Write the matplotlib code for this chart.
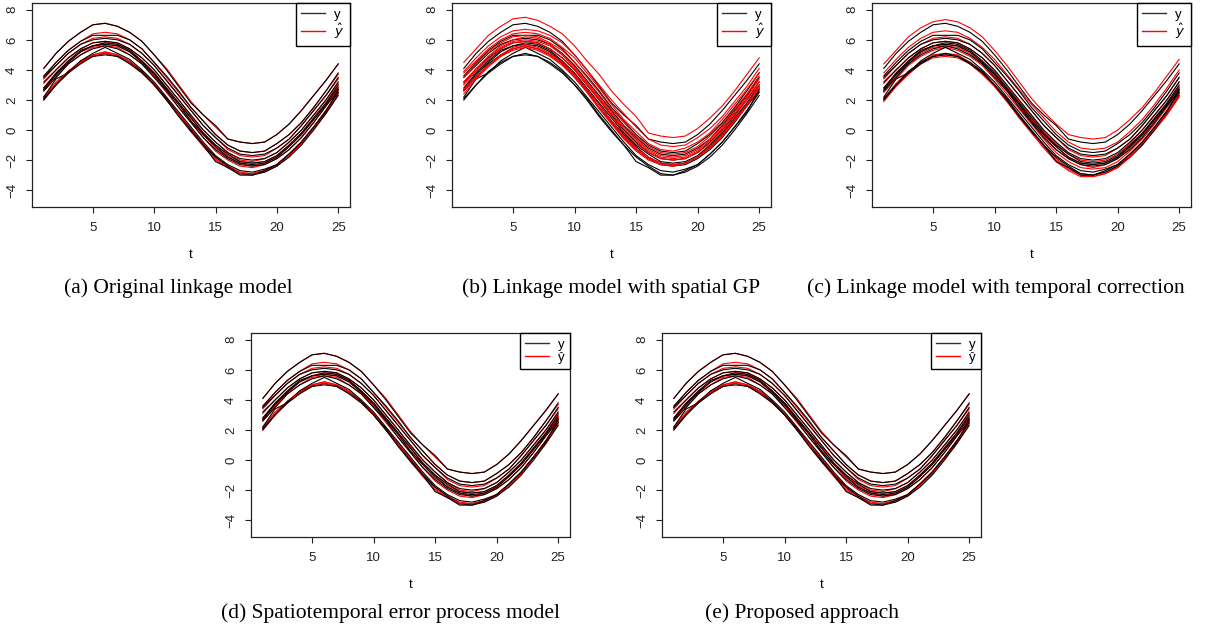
import numpy as np
import matplotlib
matplotlib.use('Agg')
import matplotlib.pyplot as plt

# time index
t = np.arange(1, 26)

# observed series (black), same in every panel
y_obs = [
    [4.1, 5.1, 5.9, 6.5, 7.0, 7.1, 6.9, 6.5, 5.9, 5.0, 4.0, 2.9, 1.8, 1.0, 0.3, -0.6, -0.8, -0.9, -0.8, -0.3, 0.4, 1.3, 2.3, 3.3, 4.4],
    [3.6, 4.5, 5.3, 5.9, 6.3, 6.3, 6.3, 6.0, 5.4, 4.5, 3.6, 2.6, 1.5, 0.6, -0.3, -1.0, -1.4, -1.5, -1.4, -0.9, -0.3, 0.5, 1.5, 2.6, 3.8],
    [3.5, 4.3, 5.1, 5.7, 6.0, 6.1, 6.0, 5.7, 5.1, 4.3, 3.3, 2.3, 1.3, 0.3, -0.5, -1.2, -1.6, -1.7, -1.6, -1.2, -0.6, 0.3, 1.3, 2.3, 3.5],
    [3.2, 4.0, 4.8, 5.4, 5.8, 5.9, 5.8, 5.4, 4.8, 4.0, 3.0, 2.0, 1.0, 0.0, -0.8, -1.5, -1.9, -2.0, -1.9, -1.5, -0.8, 0.0, 1.0, 2.0, 3.2],
    [2.8, 3.8, 4.6, 5.3, 5.6, 5.8, 5.7, 5.3, 4.6, 3.8, 2.8, 1.8, 0.8, -0.2, -1.0, -1.6, -2.1, -2.2, -2.1, -1.7, -1.0, -0.2, 0.8, 1.8, 3.0],
    [2.7, 3.7, 4.5, 5.2, 5.6, 5.7, 5.6, 5.2, 4.5, 3.7, 2.7, 1.7, 0.6, -0.3, -1.1, -1.8, -2.2, -2.3, -2.2, -1.8, -1.1, -0.3, 0.7, 1.7, 2.8],
    [2.6, 3.5, 4.4, 5.0, 5.4, 5.6, 5.4, 5.0, 4.4, 3.5, 2.6, 1.5, 0.5, -0.5, -1.3, -1.9, -2.3, -2.4, -2.3, -1.9, -1.3, -0.5, 0.5, 1.6, 2.6],
    [2.2, 3.4, 3.8, 4.6, 5.1, 5.5, 5.1, 4.7, 4.0, 3.2, 2.2, 1.2, 0.2, -0.8, -1.7, -2.3, -2.7, -2.8, -2.6, -2.3, -1.6, -0.8, 0.2, 1.2, 2.7],
    [2.1, 3.0, 3.9, 4.5, 4.9, 5.1, 4.9, 4.5, 3.9, 3.0, 2.1, 1.0, 0.0, -1.0, -1.8, -2.4, -2.9, -3.0, -2.8, -2.4, -1.8, -1.0, 0.0, 1.1, 2.3],
    [2.0, 3.0, 3.8, 4.4, 4.9, 5.0, 4.9, 4.4, 3.8, 3.0, 2.0, 0.9, -0.1, -1.0, -2.1, -2.5, -3.0, -3.0, -2.7, -2.3, -1.6, -0.8, 0.2, 1.3, 2.5],
]

# predictions (red) of the original linkage model; d and e look the same
y_hat_a = [
    [4.1, 5.1, 5.9, 6.5, 7.0, 7.1, 6.9, 6.5, 5.9, 5.0, 4.1, 3.0, 1.9, 1.0, 0.2, -0.6, -0.8, -0.9, -0.8, -0.3, 0.4, 1.3, 2.3, 3.3, 4.4],
    [3.5, 4.5, 5.3, 5.9, 6.4, 6.5, 6.4, 6.0, 5.4, 4.5, 3.5, 2.5, 1.5, 0.6, -0.3, -1.0, -1.4, -1.5, -1.4, -0.9, -0.3, 0.5, 1.5, 2.6, 3.7],
    [3.4, 4.3, 5.1, 5.7, 6.1, 6.2, 6.1, 5.7, 5.1, 4.3, 3.3, 2.3, 1.3, 0.3, -0.5, -1.3, -1.7, -1.8, -1.7, -1.2, -0.6, 0.3, 1.3, 2.3, 3.4],
    [3.1, 4.0, 4.8, 5.4, 5.8, 5.9, 5.8, 5.4, 4.8, 4.0, 3.0, 2.0, 0.9, 0.0, -0.8, -1.5, -2.0, -2.1, -1.9, -1.5, -0.8, 0.0, 1.0, 2.0, 3.1],
    [2.8, 3.7, 4.6, 5.2, 5.6, 5.8, 5.7, 5.3, 4.6, 3.8, 2.8, 1.8, 0.8, -0.2, -1.0, -1.7, -2.1, -2.2, -2.1, -1.7, -1.0, -0.2, 0.8, 1.8, 2.9],
    [2.7, 3.6, 4.5, 5.2, 5.6, 5.7, 5.6, 5.2, 4.5, 3.6, 2.7, 1.7, 0.6, -0.3, -1.2, -1.8, -2.2, -2.4, -2.2, -1.8, -1.1, -0.3, 0.7, 1.7, 2.8],
    [2.6, 3.5, 4.4, 5.0, 5.5, 5.6, 5.5, 5.0, 4.4, 3.5, 2.5, 1.5, 0.5, -0.5, -1.4, -2.0, -2.4, -2.5, -2.3, -1.9, -1.3, -0.5, 0.5, 1.6, 2.7],
    [2.2, 3.2, 3.9, 4.6, 5.0, 5.2, 5.0, 4.6, 3.9, 3.1, 2.1, 1.1, 0.1, -0.9, -1.8, -2.4, -2.8, -2.9, -2.7, -2.3, -1.6, -0.8, 0.2, 1.2, 2.6],
    [2.1, 3.1, 3.9, 4.5, 5.0, 5.2, 5.0, 4.5, 3.9, 3.0, 2.0, 1.0, 0.0, -1.0, -1.9, -2.5, -2.9, -2.9, -2.8, -2.4, -1.7, -0.9, 0.1, 1.1, 2.4],
    [2.0, 3.0, 3.8, 4.5, 4.9, 5.1, 4.9, 4.5, 3.8, 3.0, 2.0, 1.0, -0.1, -1.1, -2.0, -2.5, -2.9, -2.9, -2.7, -2.3, -1.6, -0.8, 0.2, 1.3, 2.5],
]

# predictions with spatial GP (sit higher)
y_hat_b = [
    [4.5, 5.4, 6.3, 6.9, 7.4, 7.5, 7.3, 6.9, 6.4, 5.6, 4.6, 3.7, 2.6, 1.7, 0.9, -0.2, -0.4, -0.5, -0.4, 0.1, 0.8, 1.6, 2.6, 3.7, 4.8],
    [3.9, 4.8, 5.6, 6.2, 6.6, 6.7, 6.6, 6.3, 5.8, 5.0, 4.0, 3.0, 2.0, 1.1, 0.2, -0.6, -1.0, -1.1, -1.0, -0.5, 0.1, 0.9, 1.9, 2.9, 4.1],
    [3.8, 4.6, 5.4, 6.0, 6.4, 6.5, 6.4, 6.1, 5.5, 4.8, 3.8, 2.8, 1.7, 0.7, -0.1, -0.9, -1.3, -1.4, -1.2, -0.8, -0.2, 0.7, 1.7, 2.7, 3.8],
    [3.5, 4.4, 5.2, 5.8, 6.2, 6.3, 6.2, 5.8, 5.3, 4.5, 3.5, 2.5, 1.4, 0.5, -0.4, -1.1, -1.5, -1.6, -1.5, -1.1, -0.4, 0.4, 1.4, 2.4, 3.6],
    [3.2, 4.1, 4.9, 5.6, 6.0, 6.2, 6.1, 5.7, 5.0, 4.2, 3.2, 2.2, 1.2, 0.2, -0.6, -1.3, -1.7, -1.8, -1.7, -1.3, -0.6, 0.2, 1.2, 2.2, 3.4],
    [3.1, 4.0, 4.9, 5.5, 5.9, 6.0, 5.9, 5.6, 5.0, 4.1, 3.1, 2.1, 1.1, 0.1, -0.7, -1.4, -1.8, -1.9, -1.8, -1.4, -0.7, 0.1, 1.1, 2.1, 3.2],
    [3.0, 3.9, 4.7, 5.4, 5.8, 5.9, 5.8, 5.4, 4.8, 4.0, 3.0, 2.0, 0.9, -0.1, -0.9, -1.5, -1.9, -2.0, -1.9, -1.5, -0.9, -0.1, 0.9, 2.0, 3.0],
    [2.7, 3.6, 4.3, 5.0, 5.5, 5.7, 5.5, 5.1, 4.5, 3.7, 2.7, 1.7, 0.6, -0.4, -1.2, -1.8, -2.2, -2.3, -2.2, -1.8, -1.2, -0.4, 0.6, 1.6, 2.9],
    [2.6, 3.5, 4.3, 4.9, 5.4, 5.6, 5.4, 5.0, 4.4, 3.6, 2.6, 1.5, 0.5, -0.5, -1.3, -1.9, -2.3, -2.4, -2.2, -1.8, -1.2, -0.4, 0.6, 1.6, 2.8],
    [2.4, 3.4, 4.2, 4.9, 5.3, 5.5, 5.3, 4.9, 4.3, 3.5, 2.5, 1.4, 0.4, -0.6, -1.4, -2.0, -2.3, -2.4, -2.2, -1.8, -1.1, -0.3, 0.7, 1.7, 2.9],
]

# predictions with temporal correction (wider spread)
y_hat_c = [
    [4.4, 5.3, 6.2, 6.8, 7.2, 7.35, 7.2, 6.8, 6.2, 5.3, 4.3, 3.2, 2.1, 1.2, 0.4, -0.3, -0.5, -0.6, -0.5, 0.0, 0.7, 1.5, 2.5, 3.6, 4.7],
    [3.8, 4.7, 5.5, 6.1, 6.5, 6.6, 6.5, 6.1, 5.5, 4.7, 3.7, 2.7, 1.7, 0.8, -0.1, -0.8, -1.2, -1.3, -1.2, -0.8, -0.1, 0.7, 1.7, 2.8, 4.0],
    [3.4, 4.3, 5.1, 5.7, 6.1, 6.2, 6.1, 5.7, 5.1, 4.3, 3.3, 2.3, 1.3, 0.3, -0.5, -1.3, -1.7, -1.8, -1.7, -1.2, -0.6, 0.3, 1.3, 2.3, 3.5],
    [3.1, 4.0, 4.8, 5.4, 5.8, 5.9, 5.8, 5.4, 4.8, 3.9, 2.9, 1.9, 0.9, -0.1, -0.9, -1.6, -2.0, -2.1, -2.0, -1.6, -0.9, 0.0, 1.0, 2.0, 3.2],
    [2.8, 3.7, 4.6, 5.2, 5.6, 5.7, 5.6, 5.2, 4.5, 3.7, 2.7, 1.7, 0.7, -0.3, -1.1, -1.8, -2.2, -2.3, -2.2, -1.8, -1.1, -0.3, 0.7, 1.7, 2.9],
    [2.6, 3.6, 4.4, 5.1, 5.5, 5.6, 5.5, 5.1, 4.4, 3.6, 2.6, 1.6, 0.5, -0.4, -1.3, -1.9, -2.3, -2.5, -2.3, -1.9, -1.2, -0.4, 0.6, 1.6, 2.7],
    [2.5, 3.4, 4.3, 4.9, 5.3, 5.5, 5.3, 4.9, 4.3, 3.4, 2.4, 1.4, 0.4, -0.6, -1.5, -2.1, -2.5, -2.6, -2.5, -2.1, -1.4, -0.6, 0.4, 1.5, 2.5],
    [2.1, 3.1, 3.9, 4.5, 5.0, 5.1, 5.0, 4.5, 3.9, 3.0, 2.0, 1.0, -0.1, -1.0, -1.9, -2.5, -2.9, -3.0, -2.8, -2.4, -1.7, -0.9, 0.1, 1.1, 2.4],
    [2.0, 3.0, 3.8, 4.4, 4.9, 5.0, 4.9, 4.4, 3.8, 2.9, 1.9, 0.9, -0.1, -1.1, -2.0, -2.6, -3.0, -3.1, -2.9, -2.5, -1.8, -1.0, 0.0, 1.0, 2.2],
    [1.9, 2.9, 3.7, 4.4, 4.8, 4.9, 4.8, 4.4, 3.7, 2.9, 1.9, 0.8, -0.2, -1.2, -2.1, -2.7, -3.1, -3.1, -2.9, -2.5, -1.8, -0.9, 0.1, 1.1, 2.3],
]

captions = ['(a) Original linkage model',
            '(b) Linkage model with spatial GP',
            '(c) Linkage model with temporal correction',
            '(d) Spatiotemporal error process model',
            '(e) Proposed approach']
preds = [y_hat_a, y_hat_b, y_hat_c, y_hat_a, y_hat_a]
hat_labels = [r'$\hat{y}$', r'$\hat{y}$', r'$\hat{y}$', 'ŷ', 'ŷ']

W, H = 1228, 632
# axes boxes in pixels: left, right, top, bottom
boxes = [(32, 350, 3, 207), (452, 771, 3, 207), (872, 1191, 3, 207),
         (251, 570, 333, 537), (662, 981, 333, 537)]
cap_pos = [(178, 288), (611, 288), (996, 288), (391, 613), (802, 613)]

plt.rcParams['font.family'] = ['Liberation Sans', 'DejaVu Sans']
plt.rcParams['mathtext.fontset'] = 'dejavusans'

fig = plt.figure(figsize=(W / 100, H / 100), dpi=100)

for k in range(5):
    l, r, tp, b = boxes[k]
    ax = fig.add_axes([l / W, 1 - b / H, (r - l) / W, (b - tp) / H])
    for i in range(len(y_obs)):
        ax.plot(t, preds[k][i], color='red', lw=0.8)
        ax.plot(t, y_obs[i], color='black', lw=0.8)
    ax.set_xlim(0.04, 25.96)
    ax.set_ylim(-5.12, 8.45)
    ax.set_xticks([5, 10, 15, 20, 25])
    ax.set_yticks([-4, -2, 0, 2, 4, 6, 8])
    ax.set_yticklabels(['−4', '−2', '0', '2', '4', '6', '8'], rotation=90, va='center')
    ax.tick_params(direction='out', length=4, width=0.8, labelsize=9.5, colors='#222222')
    ax.tick_params(axis='y', pad=6)
    ax.tick_params(axis='x', pad=7)
    for s in ax.spines.values():
        s.set_linewidth(0.9)
        s.set_color('#222222')
    ax.text(0.5, -0.235, 't', transform=ax.transAxes, ha='center', va='center', fontsize=9.5)

    # legend
    h1, = ax.plot([], [], color='#333333', lw=1)
    h2, = ax.plot([], [], color='red', lw=1)
    leg = ax.legend([h1, h2], ['y', hat_labels[k]], loc='upper right', borderaxespad=0,
                    fancybox=False, edgecolor='black', fontsize=9.5, handlelength=1.8,
                    handletextpad=0.7, labelspacing=0.1, borderpad=0.4, framealpha=1)
    leg.get_frame().set_linewidth(1.0)

    cx, cy = cap_pos[k]
    fig.text(cx / W, 1 - cy / H, captions[k], ha='center', va='center',
             fontsize=15.5, family='Liberation Serif')

fig.savefig('out.png', dpi=100)
